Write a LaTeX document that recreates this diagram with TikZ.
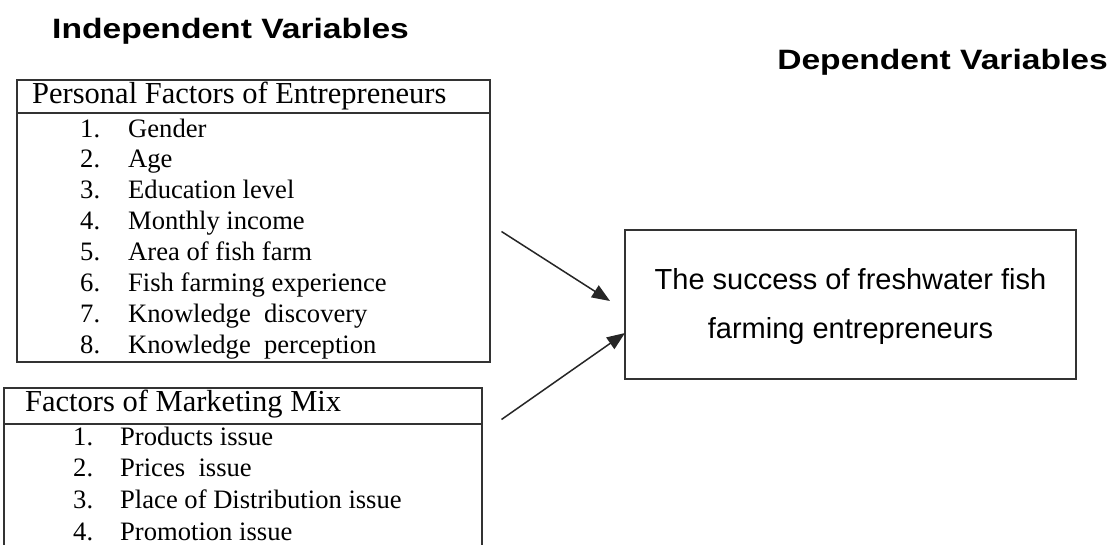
\documentclass[tikz,border=0pt]{standalone}
\usepackage{fontspec}
\setmainfont{Liberation Serif}
\newfontfamily\titlefont{Liberation Sans}[FakeStretch=1.2]
\newfontfamily\arialfont{Liberation Sans}
\usetikzlibrary{arrows.meta,calc}
\tikzset{
  frame/.style={draw=black!80, line width=1.6pt},
  ttl/.style={font=\titlefont\bfseries\fontsize{28}{32}\selectfont, inner sep=0pt},
  hdr/.style={font=\fontsize{30.5}{34}\selectfont, inner sep=0pt, anchor=base west},
  itm/.style={font=\fontsize{26.6}{30}\selectfont, inner sep=0pt, anchor=base west},
  deptxt/.style={font=\arialfont\fontsize{29}{34}\selectfont, inner sep=0pt, anchor=base},
  arr/.style={draw=black!85, line width=1.5pt, -{Triangle[length=18pt,width=14pt]}}
}
\begin{document}
\begin{tikzpicture}[x=1pt,y=-1pt]
\useasboundingbox (0,0) rectangle (1120,544);
\clip (0,0) rectangle (1120,544);
\fill[white] (0,0) rectangle (1120,544);

% titles
\node[ttl, anchor=base west] (indep) at (52,38) {Independent Variables};
\node[ttl, anchor=base east] (deptitle) at (1108,69) {Dependent Variables};

% box 1: personal factors
\node[frame, anchor=north west, minimum width=473pt, minimum height=33pt, inner sep=0pt] (pfh) at (16,79) {};
\node[frame, anchor=north west, minimum width=473pt, minimum height=249pt, inner sep=0pt] (pfb) at (16,112) {};
\node[hdr] (pft) at (32,103) {Personal Factors of Entrepreneurs};
\foreach \n/\t [count=\i from 0] in {1/Gender,2/Age,3/Education level,4/Monthly income,5/Area of fish farm,6/Fish farming experience,7/Knowledge\ \ discovery,8/Knowledge\ \ perception}{
  \node[itm] (pfn\n) at (80,{137+30.9*\i}) {\n.};
  \node[itm] (pfi\n) at (128,{137+30.9*\i}) {\t};
}

% box 2: marketing mix
\node[frame, anchor=north west, minimum width=478pt, minimum height=36pt, inner sep=0pt] (mmh) at (3,387) {};
\node[frame, anchor=north west, minimum width=478pt, minimum height=200pt, inner sep=0pt] (mmb) at (3,423) {};
\node[hdr] (mmt) at (25,411.5) {Factors of Marketing Mix};
\foreach \n/\t [count=\i from 0] in {1/Products issue,2/Prices\ \ issue,3/Place of Distribution issue,4/Promotion issue}{
  \node[itm] (mmn\n) at (73,{445+31.7*\i}) {\n.};
  \node[itm] (mmi\n) at (120,{445+31.7*\i}) {\t};
}

% dependent box
\node[frame, minimum width=451pt, minimum height=149pt, inner sep=0pt] (dep) at (850.5,304.5) {};
\node[deptxt] (dep1) at (850.5,289) {The success of freshwater fish};
\node[deptxt] (dep2) at (850.5,338.5) {farming entrepreneurs};

% arrows
\coordinate (s1) at (501.5,231.5);
\coordinate (t1) at (610,301);
\coordinate (s2) at (501.5,419.5);
\coordinate (t2) at (625,333);
\draw[arr] (s1) -- (t1);
\draw[arr] (s2) -- (t2);
\end{tikzpicture}
\end{document}
